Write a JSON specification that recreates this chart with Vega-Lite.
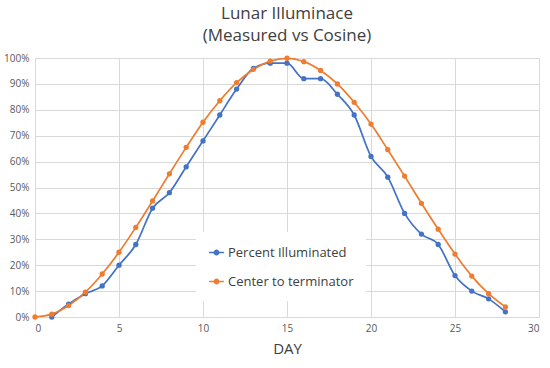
{
  "$schema": "https://vega.github.io/schema/vega-lite/v6.json",
  "autosize": "none",
  "width": 504,
  "height": 259,
  "padding": {"left": 35, "top": 58, "right": 11, "bottom": 51},
  "background": "white",
  "title": {
    "text": ["Lunar Illuminace", "(Measured vs Cosine)"],
    "font": "Open Sans",
    "fontSize": 17,
    "fontWeight": "normal",
    "color": "#404040",
    "anchor": "middle",
    "offset": 8,
    "lineHeight": 22
  },
  "config": {
    "view": {"stroke": null},
    "axis": {"labelFont": "Open Sans", "titleFont": "Open Sans", "labelColor": "#595959", "titleColor": "#404040", "gridColor": "#d9d9d9", "gridWidth": 1, "domain": false, "ticks": false}
  },
  "data": {
    "values": [
      {"day": 1, "series": "Percent Illuminated", "value": 0.0},
      {"day": 2, "series": "Percent Illuminated", "value": 0.05},
      {"day": 3, "series": "Percent Illuminated", "value": 0.09},
      {"day": 4, "series": "Percent Illuminated", "value": 0.12},
      {"day": 5, "series": "Percent Illuminated", "value": 0.20},
      {"day": 6, "series": "Percent Illuminated", "value": 0.28},
      {"day": 7, "series": "Percent Illuminated", "value": 0.42},
      {"day": 8, "series": "Percent Illuminated", "value": 0.48},
      {"day": 9, "series": "Percent Illuminated", "value": 0.58},
      {"day": 10, "series": "Percent Illuminated", "value": 0.68},
      {"day": 11, "series": "Percent Illuminated", "value": 0.78},
      {"day": 12, "series": "Percent Illuminated", "value": 0.88},
      {"day": 13, "series": "Percent Illuminated", "value": 0.96},
      {"day": 14, "series": "Percent Illuminated", "value": 0.98},
      {"day": 15, "series": "Percent Illuminated", "value": 0.98},
      {"day": 16, "series": "Percent Illuminated", "value": 0.92},
      {"day": 17, "series": "Percent Illuminated", "value": 0.92},
      {"day": 18, "series": "Percent Illuminated", "value": 0.86},
      {"day": 19, "series": "Percent Illuminated", "value": 0.78},
      {"day": 20, "series": "Percent Illuminated", "value": 0.62},
      {"day": 21, "series": "Percent Illuminated", "value": 0.54},
      {"day": 22, "series": "Percent Illuminated", "value": 0.40},
      {"day": 23, "series": "Percent Illuminated", "value": 0.32},
      {"day": 24, "series": "Percent Illuminated", "value": 0.28},
      {"day": 25, "series": "Percent Illuminated", "value": 0.16},
      {"day": 26, "series": "Percent Illuminated", "value": 0.10},
      {"day": 27, "series": "Percent Illuminated", "value": 0.07},
      {"day": 28, "series": "Percent Illuminated", "value": 0.02},
      {"day": 0, "series": "Center to terminator", "value": 0.0},
      {"day": 1, "series": "Center to terminator", "value": 0.011},
      {"day": 2, "series": "Center to terminator", "value": 0.044},
      {"day": 3, "series": "Center to terminator", "value": 0.096},
      {"day": 4, "series": "Center to terminator", "value": 0.166},
      {"day": 5, "series": "Center to terminator", "value": 0.25},
      {"day": 6, "series": "Center to terminator", "value": 0.346},
      {"day": 7, "series": "Center to terminator", "value": 0.448},
      {"day": 8, "series": "Center to terminator", "value": 0.553},
      {"day": 9, "series": "Center to terminator", "value": 0.655},
      {"day": 10, "series": "Center to terminator", "value": 0.752},
      {"day": 11, "series": "Center to terminator", "value": 0.835},
      {"day": 12, "series": "Center to terminator", "value": 0.905},
      {"day": 13, "series": "Center to terminator", "value": 0.956},
      {"day": 14, "series": "Center to terminator", "value": 0.988},
      {"day": 15, "series": "Center to terminator", "value": 0.999},
      {"day": 16, "series": "Center to terminator", "value": 0.986},
      {"day": 17, "series": "Center to terminator", "value": 0.952},
      {"day": 18, "series": "Center to terminator", "value": 0.90},
      {"day": 19, "series": "Center to terminator", "value": 0.829},
      {"day": 20, "series": "Center to terminator", "value": 0.745},
      {"day": 21, "series": "Center to terminator", "value": 0.646},
      {"day": 22, "series": "Center to terminator", "value": 0.544},
      {"day": 23, "series": "Center to terminator", "value": 0.439},
      {"day": 24, "series": "Center to terminator", "value": 0.339},
      {"day": 25, "series": "Center to terminator", "value": 0.243},
      {"day": 26, "series": "Center to terminator", "value": 0.158},
      {"day": 27, "series": "Center to terminator", "value": 0.09},
      {"day": 28, "series": "Center to terminator", "value": 0.039}
    ]
  },
  "encoding": {
    "x": {
      "field": "day", "type": "quantitative",
      "scale": {"domain": [0, 30], "nice": false, "zero": true},
      "axis": {"values": [0, 5, 10, 15, 20, 25, 30], "title": "DAY", "titleFontSize": 15, "titleFontWeight": "normal", "titlePadding": 8, "labelFontSize": 10, "labelPadding": 6}
    },
    "y": {
      "field": "value", "type": "quantitative",
      "scale": {"domain": [0, 1], "nice": false},
      "axis": {"values": [0, 0.1, 0.2, 0.3, 0.4, 0.5, 0.6, 0.7, 0.8, 0.9, 1], "format": ".0%", "title": null, "labelFontSize": 10, "labelPadding": 6}
    },
    "color": {
      "field": "series", "type": "nominal",
      "scale": {"domain": ["Percent Illuminated", "Center to terminator"], "range": ["#4472C4", "#ED7D31"]},
      "legend": {
        "title": null,
        "orient": "none",
        "legendX": 161,
        "legendY": 174,
        "padding": 12,
        "fillColor": "white",
        "labelFont": "Open Sans",
        "labelFontSize": 13,
        "labelColor": "#404040",
        "rowPadding": 13,
        "symbolType": "M-1,0H1M-0.3,0A0.3,0.3 0 1,0 0.3,0A0.3,0.3 0 1,0 -0.3,0Z",
        "symbolSize": 220,
        "symbolStrokeWidth": 1.5,
        "labelOffset": 3
      }
    }
  },
  "layer": [
    {"mark": {"type": "line", "interpolate": "monotone", "strokeWidth": 1.75}},
    {"mark": {"type": "point", "filled": true, "size": 28, "opacity": 1}}
  ]
}
